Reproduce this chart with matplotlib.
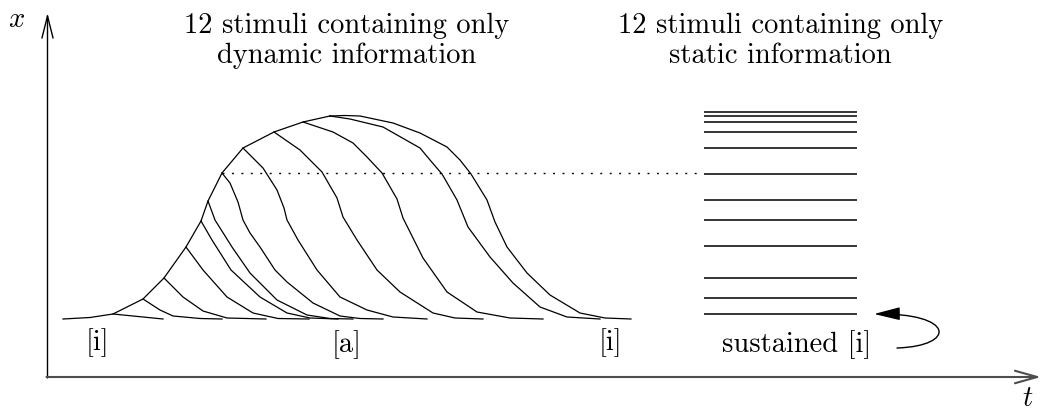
import numpy as np
import matplotlib.pyplot as plt
from matplotlib.patches import FancyArrowPatch
from matplotlib.path import Path

plt.rcParams['font.family'] = 'cmr10'
plt.rcParams['mathtext.fontset'] = 'cm'
plt.rcParams['axes.unicode_minus'] = False

# coordinates (pixels, y downward)

# rising [i] -> [a] envelope, through the 12 branch points
rise = [(63, 319), (90, 317.5), (113, 314), (143, 299), (164, 278), (186, 247),
        (201, 221), (208, 201), (222, 173), (243, 148), (274, 132), (303, 122),
        (330, 116)]
# index in `rise` where each stimulus leaves the envelope
branch_idx = [2, 3, 4, 5, 6, 7, 8, 9, 10, 11, 12, 12]

# falling part of each of the 12 dynamic stimuli
falls = [
    [(163, 319)],
    [(160, 310), (173, 316), (200, 318.5), (222, 319)],
    [(183, 297), (203, 311), (227, 318), (266, 319)],
    [(203, 270), (227, 297), (253, 313), (278, 318.5), (309, 319)],
    [(212, 240), (231, 270), (260, 297), (287, 313), (310, 318), (338, 319)],
    [(215, 220), (232, 247), (250, 273), (277, 300), (307, 315), (330, 318.5), (353, 319)],
    [(230, 183), (238, 202), (243, 220), (250, 233), (260, 247), (275, 270), (287, 282),
     (313, 303), (340, 316), (360, 318.5), (383, 319)],
    [(263, 168), (277, 190), (284, 208), (287, 220), (298, 240), (317, 270), (340, 297),
     (367, 310), (393, 317), (427, 319)],
    [(300, 150), (322, 172), (337, 198), (343, 217), (357, 240), (377, 270), (400, 292),
     (433, 313), (455, 318), (483, 319)],
    [(333, 132), (353, 143), (367, 157), (382, 173), (397, 199), (403, 218), (423, 258),
     (447, 292), (477, 312), (510, 318), (543, 319)],
    [(350, 119), (383, 127), (420, 148), (430, 160), (442, 174), (457, 200), (468, 227),
     (490, 257), (513, 283), (540, 307), (567, 317), (600, 319)],
    [(345, 115.5), (360, 116), (393, 123), (420, 133), (447, 147), (460, 160), (471, 174),
     (487, 200), (495, 222), (507, 247), (527, 273), (550, 295), (580, 313), (605, 318),
     (631, 319)],
]

# 12 static stimuli (sustained levels)
static_levels = [111.7, 115.7, 121.7, 132.3, 147.7, 173.7, 199.7, 220.3,
                 246.3, 277.7, 298.3, 314]
static_t = (704, 857)

dotted_y = 173
dotted_t = (222, 700)

# curved arrow pointing at the lowest static line
loop_path = [(897, 348), (957, 346), (955, 313), (874, 314)]

fig = plt.figure(figsize=(10.42, 4.13), dpi=100)
ax = fig.add_axes([0, 0, 1, 1])
ax.set_xlim(0, 1042)
ax.set_ylim(413, 0)
ax.axis('off')

# axes arrows
ax.annotate('', xy=(47.5, 13), xytext=(47.5, 378),
            arrowprops=dict(arrowstyle='->,head_length=1.6,head_width=0.4',
                            lw=1.0, color='k', shrinkA=0, shrinkB=0, mutation_scale=10))
ax.annotate('', xy=(1041, 377), xytext=(46.5, 377),
            arrowprops=dict(arrowstyle='->,head_length=1.6,head_width=0.45',
                            lw=1.5, color='0.3', shrinkA=0, shrinkB=0, mutation_scale=10))

# dynamic stimuli: shared rising part drawn once, then each fall from its branch point
env = np.array(rise)
ax.plot(env[:, 0], env[:, 1], color='k', lw=0.9)
for k, fall in zip(branch_idx, falls):
    pts = np.array([rise[k]] + fall)
    ax.plot(pts[:, 0], pts[:, 1], color='k', lw=0.9)

ax.plot(dotted_t, [dotted_y, dotted_y], color='k', lw=1.0, ls=(0, (1.4, 5.4)))

# static stimuli
ax.hlines(static_levels, static_t[0], static_t[1], color='k', lw=1.1)

codes = [Path.MOVETO, Path.CURVE4, Path.CURVE4, Path.CURVE4]
ax.add_patch(FancyArrowPatch(path=Path(loop_path, codes),
                             arrowstyle='-|>,head_length=1.6,head_width=0.4',
                             mutation_scale=10, lw=1.0, color='k'))

fs = 20.5
ax.text(16, 20, '$x$', fontsize=fs, ha='center', va='center')
ax.text(1028, 399, '$t$', fontsize=fs, ha='center', va='center')

ax.text(347, 33, '12 stimuli containing only', fontsize=fs, ha='center', va='baseline')
ax.text(347, 63, 'dynamic information', fontsize=fs, ha='center', va='baseline')
ax.text(781, 33, '12 stimuli containing only', fontsize=fs, ha='center', va='baseline')
ax.text(780, 63, 'static information', fontsize=fs, ha='center', va='baseline')

ax.text(97, 350, '[i]', fontsize=fs, ha='center', va='baseline')
ax.text(347, 352, '[a]', fontsize=fs, ha='center', va='baseline')
ax.text(610, 350, '[i]', fontsize=fs, ha='center', va='baseline')
ax.text(797, 352, 'sustained [i]', fontsize=fs, ha='center', va='baseline')

fig.savefig('out.png', dpi=100, facecolor='white')
